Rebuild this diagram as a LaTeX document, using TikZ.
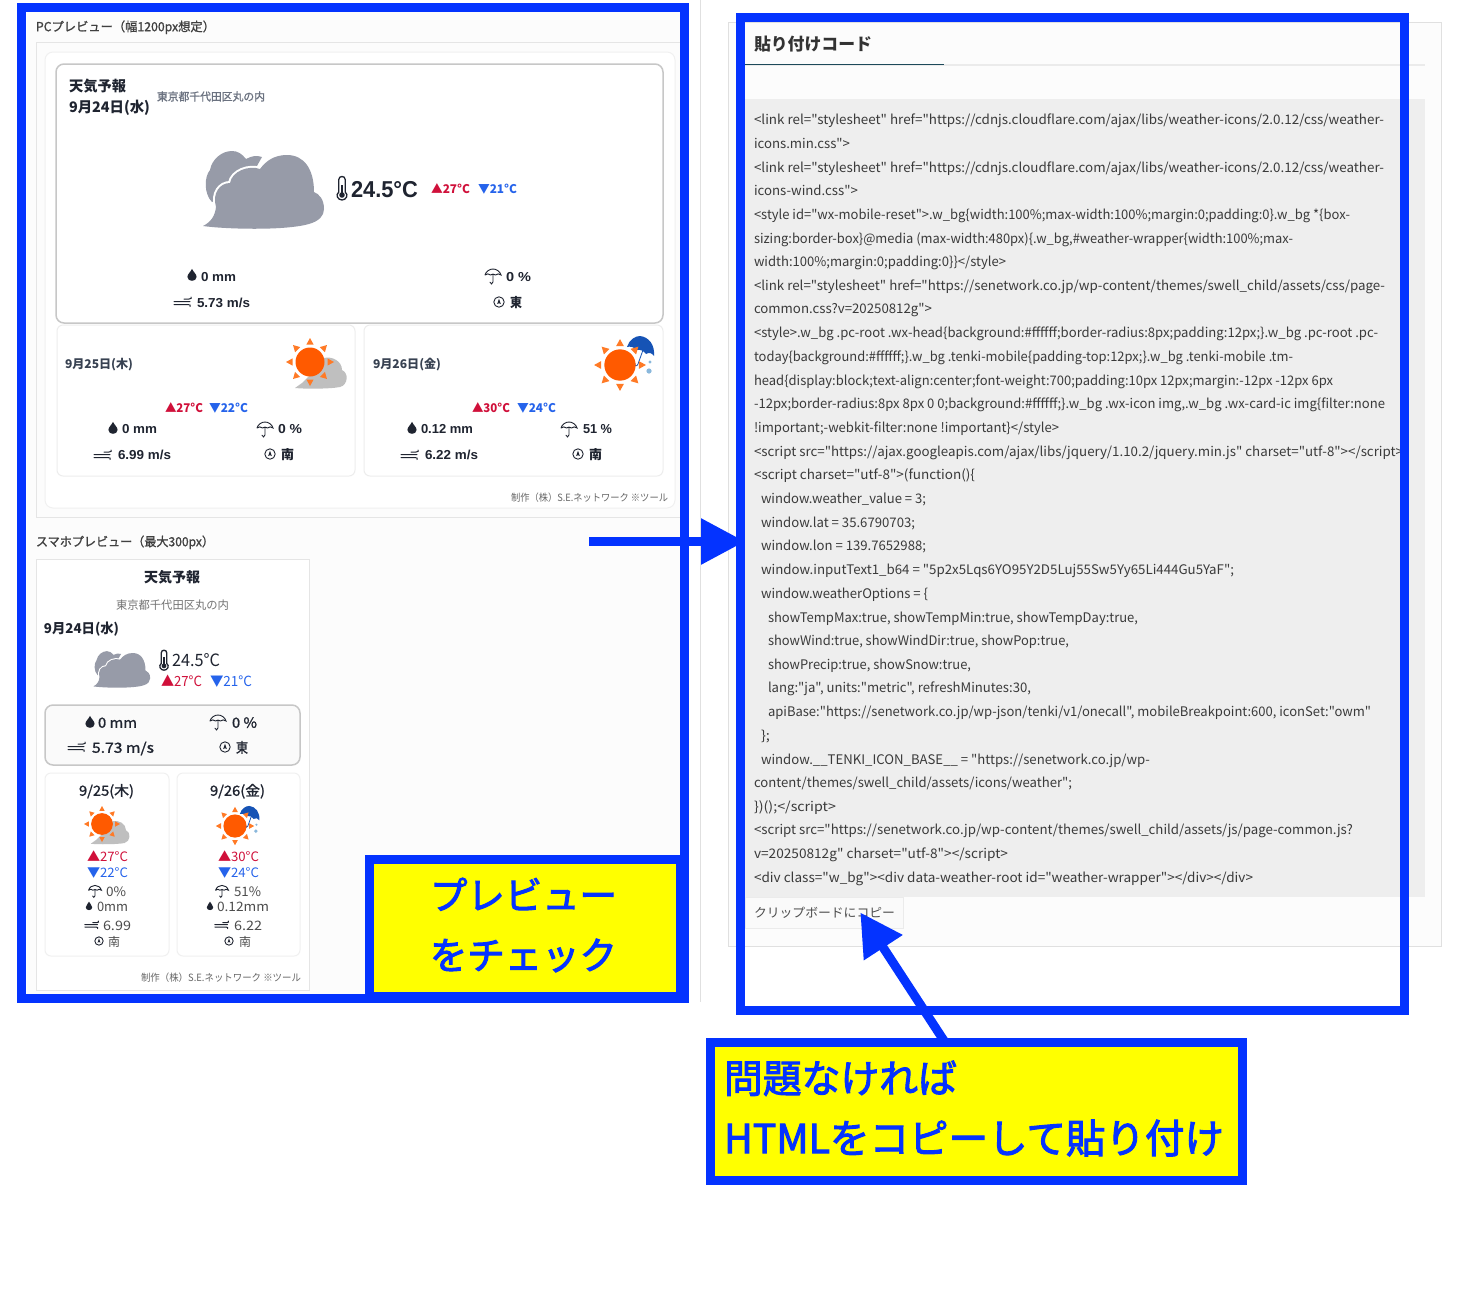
\documentclass[tikz,border=0pt]{standalone}
\usepackage{fontspec}
\usepackage{graphicx}
\setmainfont{Noto Sans CJK JP}
\newfontfamily\jp{Noto Sans CJK JP}
\newfontfamily\jpm{Noto Sans CJK JP}[FakeBold=2.5]
\newfontfamily\jps{Noto Sans CJK JP}[FakeBold=1.2]
\newfontfamily\latb{Liberation Sans}[BoldFont={Liberation Sans Bold}]
\usetikzlibrary{arrows.meta,calc}
\definecolor{fblue}{RGB}{4,51,255}
\definecolor{fyellow}{RGB}{255,255,0}
\definecolor{inkdark}{HTML}{1F2430}
\definecolor{inkmid}{HTML}{374151}
\definecolor{inkgray}{HTML}{6B7280}
\definecolor{tred}{HTML}{D0103A}
\definecolor{tblue}{HTML}{2563EB}
\definecolor{cloudgray}{HTML}{979BA8}
\definecolor{sunor}{HTML}{FF5A00}
\definecolor{sunarm}{HTML}{FF7A26}
\definecolor{umbl}{HTML}{1653B5}
\definecolor{codeink}{HTML}{3A3A3A}
\definecolor{tabline}{HTML}{1D4A5A}
\definecolor{raindrop}{HTML}{8AB8DC}
\tikzset{
  txt/.style={inner sep=0pt,outer sep=0pt,anchor=base west},
  panel/.style={inner sep=0pt,outer sep=0pt,draw=#1},
  bframe/.style={inner sep=0pt,outer sep=0pt,draw=fblue,line width=9pt},
  bigarrow/.style={draw=fblue,line width=9pt,-{Triangle[length=44pt,width=44pt,fill=fblue]}},
  dropicon/.pic={\fill[inkdark] (0,-6.2) .. controls (1,-3.4) and (4.6,-1) .. (4.6,2) .. controls (4.6,4.6) and (2.2,5.8) .. (0,5.8) .. controls (-2.2,5.8) and (-4.6,4.6) .. (-4.6,2) .. controls (-4.6,-1) and (-1,-3.4) .. (0,-6.2) -- cycle;},
  umbicon/.pic={\draw[inkdark,line width=.9pt,line cap=round] (-8,-1) .. controls (-7,-5) and (-3,-7) .. (0,-7) .. controls (3,-7) and (7,-5) .. (8,-1) .. controls (6,-2.5) and (4,-2.5) .. (2.6,-1) .. controls (1.6,-2.2) and (-1.6,-2.2) .. (-2.6,-1) .. controls (-4,-2.5) and (-6,-2.5) .. (-8,-1) (0,-2) -- (0,6) .. controls (0,8.5) and (-3,8.5) .. (-3,6.2);},
  windicon/.pic={\draw[inkdark,line width=1pt,line cap=round] (-9,-.5) -- (7,-.5) (-9,2.5) -- (5,2.5) .. controls (7,2.5) and (8,3.5) .. (7,4.5) (1,-3) -- (6,-3) .. controls (8,-3) and (9,-4) .. (8,-5);},
  compicon/.pic={\draw[inkdark,line width=.9pt] (0,0) circle (5.2); \fill[inkdark] (0,-3.4) -- (1.8,2) -- (0,1.2) -- (-1.8,2) -- cycle;},
  thermicon/.pic={\draw[inkdark,line width=1.3pt] (-3.2,4) -- (-3.2,-8.5) .. controls (-3.2,-12.5) and (3.2,-12.5) .. (3.2,-8.5) -- (3.2,4) .. controls (7,7) and (4,12) .. (0,12) .. controls (-4,12) and (-7,7) .. (-3.2,4) -- cycle; \fill[inkdark] (0,7) circle (2.8); \draw[inkdark,line width=1.2pt] (0,7) -- (0,-3);},
  bigcloud/.pic={
    \fill[cloudgray] (-32,-38) .. controls (-42,-38) and (-52,-30) .. (-54,-19) .. controls (-60,-12) and (-60,5) .. (-52,13) -- (-20,0) -- (-2,-32) .. controls (-8,-34) and (-12,-33) .. (-18,-30) .. controls (-22,-35) and (-26,-38) .. (-32,-38) -- cycle;
    \fill[cloudgray,preaction={draw=white,line width=#1}] (-61,37) .. controls (-40,40) and (20,42) .. (45,35) .. controls (55,32) and (60,27) .. (60,20) .. controls (60,10) and (55,5) .. (50,3) .. controls (50,-20) and (40,-34) .. (23,-34) .. controls (10,-34) and (2,-28) .. (-4,-20) .. controls (-15,-24) and (-32,-18) .. (-34,-6) .. controls (-44,-6) and (-52,4) .. (-48,18) .. controls (-49,27) and (-53,33) .. (-61,37) -- cycle;},
  greycloud/.pic={\fill[black!25] (-25,13) .. controls (-15,14) and (10,14) .. (20,12) .. controls (28,10) and (29,-2) .. (22,-5) .. controls (22,-14) and (12,-19) .. (4,-17) -- (-10,0) -- (-18,8) -- cycle;},
  sunicon/.pic={\foreach \a in {0,45,...,315}{\fill[sunarm,rotate=\a] (17.5,-3.6) -- (24,0) -- (17.5,3.6) -- cycle;} \fill[sunor] (0,0) circle (14.5);},
  rainicon/.pic={\fill[umbl] (-14,-3) .. controls (-12,-10) and (-6,-14) .. (-1,-14) .. controls (8,-13) and (14,-5) .. (13,6) .. controls (11,3) and (8,2) .. (5,4) .. controls (3,1) and (-1,-1) .. (-4,0) .. controls (-7,-3) and (-11,-4) .. (-14,-3) -- cycle; \draw[umbl,line width=.8pt] (2,0) -- (-3,14) .. controls (-4,17) and (-7,16) .. (-6,13); \fill[raindrop] (9,12) circle (1.6) (8,21) circle (2.6);},
}
\newcommand{\T}[8]{\node[txt,text=#3] (#1) at ({#5},{#7+0.7+0.36*#4}) {\resizebox{\dimexpr #6pt-#5pt\relax}{\height}{\fontsize{#4pt}{#4pt}\selectfont\jp#2\relax#8}};}
\newcommand{\Rect}[6]{\node[#6,inner sep=0pt,minimum width=#4pt-#2pt,minimum height=#5pt-#3pt] (#1) at ({(#2+#4)/2},{(#3+#5)/2}) {};}
\newcommand{\Cl}[5]{\T{#1}{}{codeink}{13.2}{#2}{#3}{#4}{#5}}
\begin{document}
\begin{tikzpicture}[x=1pt,y=-1pt]
\useasboundingbox (0,0) rectangle (1462,1310);
\fill[white] (0,0) rectangle (1462,1310);
% page chrome
\draw[black!12,line width=1pt] (700,0) -- (700,1002);
\Rect{rightpanel}{728}{22}{1441}{946}{panel=black!12,fill=black!1,line width=1pt}
\fill[black!1] (27,12) rectangle (680,994);
% left: PC preview
\T{pctitle}{\jps}{black!75}{12.5}{36}{215}{26}{PCプレビュー（幅1200px想定）}
\Rect{pcpanel}{36}{42}{680}{517}{panel=black!10,fill=black!1,line width=1pt}
\Rect{pcinner}{45}{52}{675}{508}{panel=black!6,fill=white,rounded corners=8pt,line width=1pt}
\Rect{today}{56}{64}{663}{323}{panel=black!22,fill=white,rounded corners=8pt,line width=1.5pt}
\Rect{cardA}{57}{325}{355}{476}{panel=black!7,fill=white,rounded corners=6pt,line width=1pt}
\Rect{cardB}{364}{325}{663}{476}{panel=black!7,fill=white,rounded corners=6pt,line width=1pt}
\T{t1}{\bfseries}{inkdark}{14.5}{69}{126}{86}{天気予報}
\T{t2}{\bfseries}{inkdark}{14.5}{69}{150}{106.5}{9月24日(水)}
\T{t3}{\jps}{inkgray}{11}{157}{265}{96}{東京都千代田区丸の内}
\pic at (264,189) {bigcloud=4pt};
\pic at (342,188) {thermicon};
\T{t4}{\latb\bfseries}{inkdark}{23}{351}{418}{189}{24.5°C}
\T{t5}{\bfseries}{tred}{12}{431}{470}{188}{▲27°C}
\T{t6}{\bfseries}{tblue}{12}{478}{517}{188}{▼21°C}
\pic at (192,275) {dropicon};
\T{t7}{\latb\bfseries}{inkdark}{13}{201}{236}{276}{0 mm}
\pic at (493,276) {umbicon};
\T{t8}{\latb\bfseries}{inkdark}{13}{506}{531}{276}{0 \%}
\pic at (183,302) {windicon};
\T{t9}{\latb\bfseries}{inkdark}{13}{197}{250}{302}{5.73 m/s}
\pic at (499,302) {compicon};
\T{t10}{\bfseries}{inkdark}{13}{510}{522}{302}{東}
% card A
\T{a1}{\bfseries}{inkmid}{12}{65}{133}{363.5}{9月25日(木)}
\pic at (320,375) {greycloud};
\pic at (310,362) {sunicon};
\T{a2}{\bfseries}{tred}{12}{165}{203}{407}{▲27°C}
\T{a3}{\bfseries}{tblue}{12}{209}{248}{407}{▼22°C}
\pic at (113,428) {dropicon};
\T{a4}{\latb\bfseries}{inkdark}{13}{122}{157}{428}{0 mm}
\pic at (265,429) {umbicon};
\T{a5}{\latb\bfseries}{inkdark}{13}{278}{302}{428}{0 \%}
\pic at (103,455) {windicon};
\T{a6}{\latb\bfseries}{inkdark}{13}{118}{171}{454}{6.99 m/s}
\pic at (270,454) {compicon};
\T{a7}{\bfseries}{inkdark}{13}{281}{294}{454}{南}
% card B
\T{b1}{\bfseries}{inkmid}{12}{373}{441}{363.5}{9月26日(金)}
\pic at (641,350) {rainicon};
\pic[scale=1.08] at (620,365) {sunicon};
\T{b2}{\bfseries}{tred}{12}{472}{510}{407}{▲30°C}
\T{b3}{\bfseries}{tblue}{12}{517}{556}{407}{▼24°C}
\pic at (412,428) {dropicon};
\T{b4}{\latb\bfseries}{inkdark}{13}{421}{473}{428}{0.12 mm}
\pic at (569,429) {umbicon};
\T{b5}{\latb\bfseries}{inkdark}{13}{583}{612}{428}{51 \%}
\pic at (410,455) {windicon};
\T{b6}{\latb\bfseries}{inkdark}{13}{425}{478}{454}{6.22 m/s}
\pic at (578,454) {compicon};
\T{b7}{\bfseries}{inkdark}{13}{589}{602}{454}{南}
\T{cr1}{}{black!60}{10}{511}{668}{497}{制作（株）S.E.ネットワーク ※ツール}
% mobile preview
\T{mtitle}{\jps}{black!75}{12.5}{36}{214}{541}{スマホプレビュー（最大300px）}
\Rect{mcard}{36}{559}{309}{990}{panel=black!10,fill=white,line width=1pt}
\T{m1}{\bfseries}{inkdark}{14}{144}{200}{577}{天気予報}
\T{m2}{}{black!55}{11.5}{116}{229}{605}{東京都千代田区丸の内}
\T{m3}{\bfseries}{inkdark}{13.5}{44}{119}{628}{9月24日(水)}
\pic[scale=.47] at (122,669) {bigcloud=2pt};
\pic[scale=.85] at (164,660) {thermicon};
\T{m4}{}{inkdark}{17}{172}{220}{660}{24.5°C}
\T{m5}{}{tred}{14}{161}{202}{681}{▲27°C}
\T{m6}{}{tblue}{14}{210}{252}{681}{▼21°C}
\Rect{mbox}{45}{705}{300}{765}{panel=black!22,fill=black!2,rounded corners=8pt,line width=1.5pt}
\pic at (90,722) {dropicon};
\T{m7}{\jps}{inkdark}{14}{98}{137}{722}{0 mm}
\pic at (218,722) {umbicon};
\T{m8}{\jps}{inkdark}{14}{232}{257}{722}{0 \%}
\pic at (77,747) {windicon};
\T{m9}{\jps}{inkdark}{14}{92}{154}{747}{5.73 m/s}
\pic at (225,747) {compicon};
\T{m10}{\jps}{inkdark}{14}{236}{248}{747}{東}
\Rect{mA}{45}{773}{169}{956}{panel=black!6,fill=white,rounded corners=6pt,line width=1pt}
\Rect{mB}{177}{773}{300}{956}{panel=black!6,fill=white,rounded corners=6pt,line width=1pt}
\T{ma1}{\jps}{inkdark}{14}{79}{134}{790}{9/25(木)}
\pic[scale=.75] at (109.5,834) {greycloud};
\pic[scale=.75] at (102,824) {sunicon};
\T{ma2}{}{tred}{13}{87}{128}{856}{▲27°C}
\T{ma3}{}{tblue}{13}{87}{128}{872}{▼22°C}
\pic[scale=.8] at (95,891) {umbicon};
\T{ma4}{}{black!70}{13}{106}{126}{891}{0\%}
\pic[scale=.7] at (89,906) {dropicon};
\T{ma5}{}{black!70}{13}{97}{128}{906}{0mm}
\pic[scale=.8] at (92,925) {windicon};
\T{ma6}{}{black!70}{13}{103}{131}{925}{6.99}
\pic[scale=.8] at (99,941) {compicon};
\T{ma7}{}{black!70}{12}{108}{120}{941}{南}
\T{mb1}{\jps}{inkdark}{14}{210}{265}{790}{9/26(金)}
\pic[scale=.72] at (250,816) {rainicon};
\pic[scale=.8] at (235,826) {sunicon};
\T{mb2}{}{tred}{13}{218}{259}{856}{▲30°C}
\T{mb3}{}{tblue}{13}{218}{259}{872}{▼24°C}
\pic[scale=.8] at (222,891) {umbicon};
\T{mb4}{}{black!70}{13}{234}{261}{891}{51\%}
\pic[scale=.7] at (210,906) {dropicon};
\T{mb5}{}{black!70}{13}{217}{269}{906}{0.12mm}
\pic[scale=.8] at (222,925) {windicon};
\T{mb6}{}{black!70}{13}{234}{262}{925}{6.22}
\pic[scale=.8] at (229,941) {compicon};
\T{mb7}{}{black!70}{12}{239}{251}{941}{南}
\T{cr2}{}{black!60}{10}{141}{301}{977}{制作（株）S.E.ネットワーク ※ツール}
% right: code
\T{ctitle}{\bfseries}{black!80}{17}{754}{872}{44}{貼り付けコード}
\draw[black!8,line width=1.5pt] (745,65) -- (1425,65);
\draw[tabline,line width=1.5pt] (745,64.5) -- (944,64.5);
\Rect{codebox}{745}{99}{1425}{897}{fill=black!6.5}
\Rect{button}{745}{897}{903}{928}{panel=black!8,fill=black!2,line width=1pt}
\T{btn}{}{black!70}{12.5}{754}{895}{912}{クリップボードにコピー}
\Cl{c1}{754}{1384}{119}{<link rel="stylesheet" href="https://cdnjs.cloudflare.com/ajax/libs/weather-icons/2.0.12/css/weather-}
\Cl{c2}{754}{850}{143}{icons.min.css">}
\Cl{c3}{754}{1384}{167}{<link rel="stylesheet" href="https://cdnjs.cloudflare.com/ajax/libs/weather-icons/2.0.12/css/weather-}
\Cl{c4}{754}{858}{190.5}{icons-wind.css">}
\Cl{c5}{754}{1350}{214}{<style id="wx-mobile-reset">.w\_bg\{width:100\%;max-width:100\%;margin:0;padding:0\}.w\_bg *\{box-}
\Cl{c6}{754}{1293}{238}{sizing:border-box\}@media (max-width:480px)\{.w\_bg,\#weather-wrapper\{width:100\%;max-}
\Cl{c7}{754}{1006}{261.5}{width:100\%;margin:0;padding:0\}\}</style>}
\Cl{c8}{754}{1385}{285}{<link rel="stylesheet" href="https://senetwork.co.jp/wp-content/themes/swell\_child/assets/css/page-}
\Cl{c9}{754}{932}{308.5}{common.css?v=20250812g">}
\Cl{c10}{754}{1378}{332.5}{<style>.w\_bg .pc-root .wx-head\{background:\#ffffff;border-radius:8px;padding:12px;\}.w\_bg .pc-root .pc-}
\Cl{c11}{754}{1293}{356}{today\{background:\#ffffff;\}.w\_bg .tenki-mobile\{padding-top:12px;\}.w\_bg .tenki-mobile .tm-}
\Cl{c12}{754}{1333}{380}{head\{display:block;text-align:center;font-weight:700;padding:10px 12px;margin:-12px -12px 6px}
\Cl{c13}{754}{1385}{403.5}{-12px;border-radius:8px 8px 0 0;background:\#ffffff;\}.w\_bg .wx-icon img,.w\_bg .wx-card-ic img\{filter:none}
\Cl{c14}{754}{1059}{427}{!important;-webkit-filter:none !important\}</style>}
\Cl{c15}{754}{1403}{451}{<script src="https://ajax.googleapis.com/ajax/libs/jquery/1.10.2/jquery.min.js" charset="utf-8"></script>}
\Cl{c16}{754}{975}{474.5}{<script charset="utf-8">(function()\{}
\Cl{c17}{761}{926}{498}{window.weather\_value = 3;}
\Cl{c18}{761}{915}{522}{window.lat = 35.6790703;}
\Cl{c19}{761}{926}{545.5}{window.lon = 139.7652988;}
\Cl{c20}{761}{1234}{569}{window.inputText1\_b64 = "5p2x5Lqs6YO95Y2D5Luj55Sw5Yy65Li444Gu5YaF";}
\Cl{c21}{761}{928}{593}{window.weatherOptions = \{}
\Cl{c22}{768}{1138}{617}{showTempMax:true, showTempMin:true, showTempDay:true,}
\Cl{c23}{768}{1069}{640.5}{showWind:true, showWindDir:true, showPop:true,}
\Cl{c24}{768}{971}{664}{showPrecip:true, showSnow:true,}
\Cl{c25}{768}{1031}{687.5}{lang:"ja", units:"metric", refreshMinutes:30,}
\Cl{c26}{768}{1371}{711}{apiBase:"https://senetwork.co.jp/wp-json/tenki/v1/onecall", mobileBreakpoint:600, iconSet:"owm"}
\Cl{c27}{761}{770}{735}{\};}
\Cl{c28}{761}{1150}{759}{window.\_\_TENKI\_ICON\_BASE\_\_ = "https://senetwork.co.jp/wp-}
\Cl{c29}{754}{1072}{782.5}{content/themes/swell\_child/assets/icons/weather";}
\Cl{c30}{754}{836}{806}{\})();</script>}
\Cl{c31}{754}{1353}{829.5}{<script src="https://senetwork.co.jp/wp-content/themes/swell\_child/assets/js/page-common.js?}
\Cl{c32}{754}{1008}{853}{v=20250812g" charset="utf-8"></script>}
\Cl{c33}{754}{1253}{877}{<div class="w\_bg"><div data-weather-root id="weather-wrapper"></div></div>}
% blue frames
\Rect{leftframe}{21.5}{7.5}{684}{998.5}{bframe}
\Rect{rightframe}{740}{17}{1404}{1010}{bframe}
\Rect{checkbox}{369.5}{859.5}{680}{996}{bframe,fill=fyellow}
\T{y1}{\jpm}{fblue}{38}{430}{617}{895}{プレビュー}
\T{y2}{\jpm}{fblue}{38}{430}{617}{955}{をチェック}
\Rect{hintbox}{710}{1042.5}{1242}{1180.5}{bframe,fill=fyellow}
\T{y3}{\jpm}{fblue}{39}{724}{957}{1078}{問題なければ}
\T{y4}{\jpm}{fblue}{40}{724}{1224}{1138}{HTMLをコピーして貼り付け}
% arrows
\coordinate (previewmark) at (589,541.5);
\draw[bigarrow] (previewmark) -- ($(previewmark -| rightframe.west)+(5,0)$);
\coordinate (hintfoot) at ($(hintbox.north west)!0.442!(hintbox.north east)$);
\coordinate (btnspot) at ($(button.west)!0.73!(button.east)$);
\draw[bigarrow,-{Triangle[length=42pt,width=44pt,fill=fblue]}] (hintfoot) -- (btnspot);
\end{tikzpicture}
\end{document}
